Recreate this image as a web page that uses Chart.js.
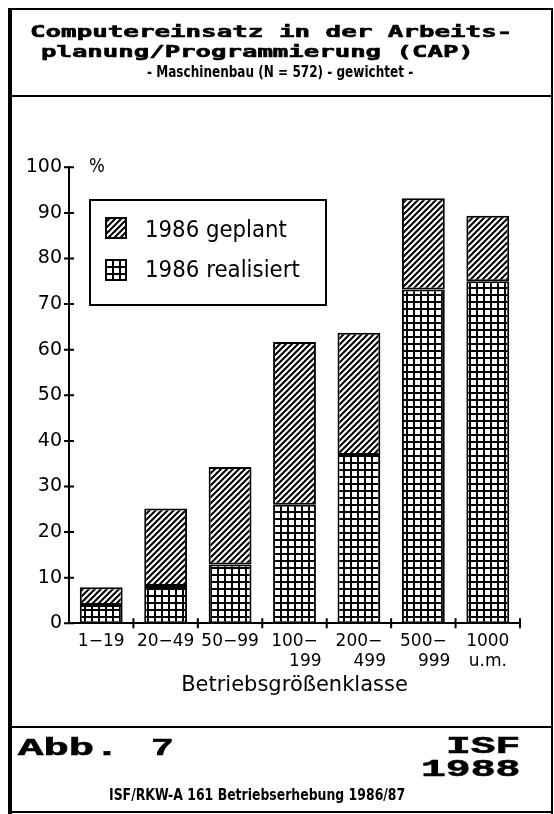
<!DOCTYPE html>
<html><head><meta charset="utf-8">
<script src="https://cdn.jsdelivr.net/npm/chart.js@4.4.1/dist/chart.umd.min.js"></script>
<style>
html,body{margin:0;padding:0;background:#fff;}
body{width:554px;height:814px;position:relative;overflow:hidden;}
#c{position:absolute;left:0;top:0;}
.ln{position:absolute;background:#000;}
.t{position:absolute;white-space:pre;color:#000;transform-origin:0 0;}
.heavy{-webkit-text-stroke:0.6px #000;}
#legend{position:absolute;left:89px;top:199px;width:238px;height:107px;border:2px solid #000;box-sizing:border-box;}
.sw{position:absolute;}
</style></head><body>
<canvas id="c" width="554" height="814"></canvas>
<div class="ln" style="left:8px;top:8px;width:545px;height:2px"></div>
<div class="ln" style="left:8px;top:8px;width:4px;height:806px"></div>
<div class="ln" style="left:551px;top:8px;width:2px;height:806px"></div>
<div class="ln" style="left:8px;top:95px;width:545px;height:2px"></div>
<div class="ln" style="left:8px;top:726px;width:545px;height:2px"></div>
<div class="ln" style="left:8px;top:811px;width:545px;height:2px"></div>
<div id="legend"></div>
<canvas class="sw" id="sw0" width="22" height="22" style="left:105px;top:217px"></canvas>
<canvas class="sw" id="sw1" width="22" height="22" style="left:105px;top:259px"></canvas>
<script>
// ---- data ----
const categories = [["1−19"],["20−49"],["50−99"],["100−","\u2007\u2007199"],["200−","\u2007\u2007499"],["500−","\u2007\u2007999"],["1000","u.m."]];
const realisiert = [4.0, 8.2, 12.9, 26.0, 36.9, 73.2, 75.0];
const geplant    = [3.9, 17.0, 21.4, 35.7, 26.8, 20.0, 14.4];
const seriesLabels = ["1986 geplant", "1986 realisiert"];
const yMin = 0, yMax = 100, yStep = 10;
const axisTitle = "Betriebsgrößenklasse";

// ---- patterns ----
function hatchPattern(ctx){
  const s=6, c=document.createElement('canvas'); c.width=s; c.height=s;
  const g=c.getContext('2d'); g.fillStyle='#fff'; g.fillRect(0,0,s,s);
  g.strokeStyle='#000'; g.lineWidth=2; g.beginPath();
  g.moveTo(-1,s+1); g.lineTo(s+1,-1);
  g.moveTo(-1,1); g.lineTo(1,-1);
  g.moveTo(s-1,s+1); g.lineTo(s+1,s-1);
  g.stroke();
  return ctx.createPattern(c,'repeat');
}
function gridPattern(ctx){
  const s=7, c=document.createElement('canvas'); c.width=s; c.height=s;
  const g=c.getContext('2d'); g.fillStyle='#fff'; g.fillRect(0,0,s,s);
  g.fillStyle='#000'; g.fillRect(0,0,s,2); g.fillRect(0,0,2,s);
  return ctx.createPattern(c,'repeat');
}

// ---- text helper ----
const mc=document.createElement('canvas').getContext('2d');
function place(text, font, fs, left, right, baseline, cls){
  const el=document.createElement('div'); el.className='t'+(cls?' '+cls:''); el.textContent=text;
  el.style.font=font; el.style.lineHeight='1';
  mc.font=font; const m=mc.measureText(text);
  const vis=m.actualBoundingBoxLeft+m.actualBoundingBoxRight;
  const sc = right!=null ? (right-left)/vis : 1;
  const asc=m.fontBoundingBoxAscent, desc=m.fontBoundingBoxDescent;
  const off=(fs-(asc+desc))/2+asc;
  el.style.left=(left+m.actualBoundingBoxLeft*sc)+'px';
  el.style.top=(baseline-off)+'px';
  el.style.transform='scaleX('+sc+')';
  document.body.appendChild(el);
}

const MONO='bold 16px "DejaVu Sans Mono"';
const SUB='bold 15px "DejaVu Sans"';
const COUR='bold 24px "Liberation Mono"';
place("Computereinsatz in der Arbeits-", MONO, 16, 32, 510, 37, 'heavy');
place("planung/Programmierung (CAP)", MONO, 16, 43, 470, 57, 'heavy');
place("- Maschinenbau (N = 572) - gewichtet -", SUB, 15, 147, 413, 77);
place("Abb.", COUR, 24, 18, 110, 755, 'heavy');
place("7", COUR, 24, 153, 172, 755, 'heavy');
place("ISF", COUR, 24, 448, 518, 753, 'heavy');
place("1988", COUR, 24, 423, 520, 776, 'heavy');
place("ISF/RKW-A 161 Betriebserhebung 1986/87", SUB, 15, 110, 405, 800);
place("%", '19px "DejaVu Sans"', 19, 90, 104, 172);
place(seriesLabels[0], '23px "DejaVu Sans"', 23, 147, 287, 237);
place(seriesLabels[1], '23px "DejaVu Sans"', 23, 147, 300, 277);

// legend swatches
[['sw0',hatchPattern],['sw1',gridPattern]].forEach(([id,fn])=>{
  const g=document.getElementById(id).getContext('2d');
  g.fillStyle=fn(g); g.fillRect(0,0,22,22);
  g.strokeStyle='#000'; g.lineWidth=2; g.strokeRect(1,1,20,20);
});

// ---- chart ----
const canvas=document.getElementById('c');
const ctx=canvas.getContext('2d');
const axisTicks={id:'axisTicks',afterDraw(chart){
  const c=chart.ctx, x=chart.scales.x, y=chart.scales.y;
  c.save(); c.strokeStyle='#000'; c.lineWidth=2; c.beginPath();
  y.ticks.forEach(t=>{const py=y.getPixelForValue(t.value); c.moveTo(y.right-5,py); c.lineTo(y.right+5,py);});
  const n=x.ticks.length;
  for(let i=1;i<=n;i++){const px=x.getPixelForDecimal(i/n); c.moveTo(px,x.top-5); c.lineTo(px,x.top+5);}
  c.stroke(); c.restore();
}};
new Chart(ctx,{
  type:'bar',
  data:{labels:categories,datasets:[
    {label:seriesLabels[1],data:realisiert,backgroundColor:gridPattern(ctx),borderColor:'#000',borderWidth:2,borderSkipped:false,barPercentage:0.665,categoryPercentage:1},
    {label:seriesLabels[0],data:geplant,backgroundColor:hatchPattern(ctx),borderColor:'#000',borderWidth:2,borderSkipped:false,barPercentage:0.665,categoryPercentage:1}
  ]},
  options:{
    responsive:false,animation:false,
    layout:{padding:{top:167.3,left:0,right:34,bottom:116}},
    plugins:{legend:{display:false},tooltip:{enabled:false}},
    scales:{
      x:{stacked:true,offset:true,
        grid:{display:false,drawTicks:false},
        border:{display:true,color:'#000',width:2},
        ticks:{color:'#000',font:{family:'DejaVu Sans',size:17,lineHeight:1.18},padding:8,maxRotation:0,autoSkip:false},
        title:{display:true,text:axisTitle,color:'#000',font:{family:'DejaVu Sans',size:21,lineHeight:1.2},padding:{top:0,bottom:0}},
        afterFit(s){s.height=74.7;}
      },
      y:{stacked:true,min:yMin,max:yMax,
        grid:{display:false,drawTicks:false},
        border:{display:true,color:'#000',width:2},
        ticks:{stepSize:yStep,color:'#000',font:{family:'DejaVu Sans',size:19},padding:7},
        afterFit(s){s.width=69;}
      }
    }
  },
  plugins:[axisTicks]
});
</script>
</body></html>
